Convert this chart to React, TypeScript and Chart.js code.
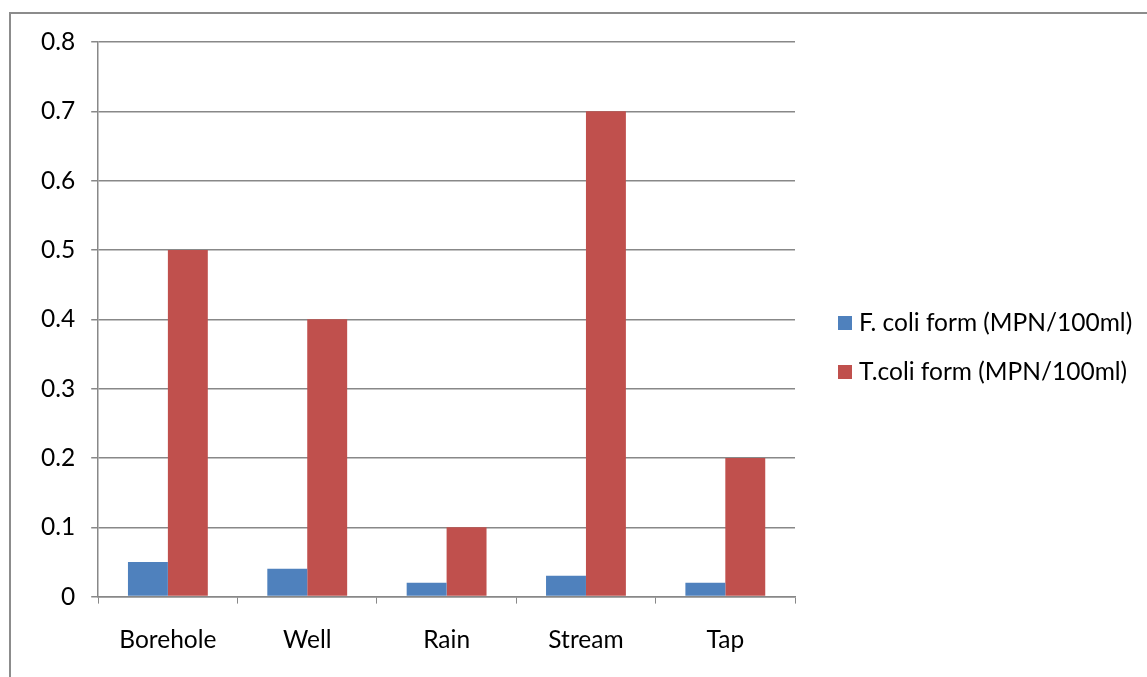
import React, { useEffect, useRef } from 'react';
import { Chart, registerables } from 'chart.js';

Chart.register(...registerables);

const categories = ['Borehole', 'Well', 'Rain', 'Stream', 'Tap'];
const fColiValues = [0.05, 0.04, 0.02, 0.03, 0.02];
const tColiValues = [0.5, 0.4, 0.1, 0.7, 0.2];
const seriesLabels = ['F. coli form (MPN/100ml)', 'T.coli form (MPN/100ml)'];

const FONT = 'Lato, "Open Sans", sans-serif';
const FONT_SIZE = 24.5;

// Excel-style legend to the right of the plot, drawn from the datasets
const sideLegend = {
  id: 'sideLegend',
  afterDraw(chart: Chart) {
    const { ctx } = chart;
    ctx.save();
    ctx.font = `${FONT_SIZE}px ${FONT}`;
    ctx.textBaseline = 'middle';
    ctx.textAlign = 'left';
    chart.data.datasets.forEach((ds, i) => {
      const cy = 323 + i * 49;
      ctx.fillStyle = ds.backgroundColor as string;
      ctx.fillRect(838, cy - 7, 14, 14);
      ctx.fillStyle = '#000';
      ctx.fillText(ds.label || '', 859, cy);
    });
    ctx.restore();
  }
};

export default function App() {
  const canvasRef = useRef<HTMLCanvasElement | null>(null);

  useEffect(() => {
    document.body.style.margin = '0';
    if (!canvasRef.current) return;
    const chart = new Chart(canvasRef.current, {
      type: 'bar',
      data: {
        labels: categories,
        datasets: [
          {
            label: seriesLabels[0],
            data: fColiValues,
            backgroundColor: '#4f81bd',
            categoryPercentage: 0.573,
            barPercentage: 1
          },
          {
            label: seriesLabels[1],
            data: tColiValues,
            backgroundColor: '#c0504d',
            categoryPercentage: 0.573,
            barPercentage: 1
          }
        ]
      },
      options: {
        responsive: false,
        animation: false,
        layout: {
          padding: { left: 25, top: 42, right: 352, bottom: 0 }
        },
        plugins: {
          tooltip: { enabled: false },
          legend: { display: false }
        },
        scales: {
          x: {
            grid: {
              offset: true,
              drawOnChartArea: false,
              tickLength: 7,
              color: '#888'
            },
            border: { color: '#888', width: 1.5 },
            ticks: {
              color: '#000',
              padding: 22,
              font: { family: FONT, size: FONT_SIZE }
            }
          },
          y: {
            min: 0,
            max: 0.8,
            grid: {
              color: '#888',
              lineWidth: 1.5,
              tickLength: 7
            },
            border: { color: '#888', width: 1.5 },
            ticks: {
              stepSize: 0.1,
              color: '#000',
              padding: 16,
              font: { family: FONT, size: FONT_SIZE },
              callback: (v) => (Number(v) === 0 ? '0' : Number(v).toFixed(1))
            }
          }
        }
      },
      plugins: [sideLegend]
    });
    return () => chart.destroy();
  }, []);

  return (
    <div style={{ position: 'relative', width: 1147, height: 677, overflow: 'hidden', background: '#fff' }}>
      <div
        style={{
          position: 'absolute',
          left: 9,
          top: 12,
          width: 1300,
          height: 900,
          border: '2px solid #8c8c8c',
          boxSizing: 'border-box'
        }}
      />
      <canvas ref={canvasRef} width={1147} height={677} style={{ position: 'absolute', left: 0, top: 0 }} />
    </div>
  );
}
